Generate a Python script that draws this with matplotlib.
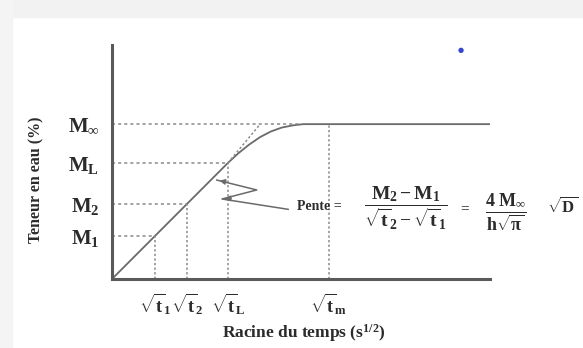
import matplotlib
matplotlib.use("Agg")
import matplotlib.pyplot as plt
from matplotlib.patches import Rectangle

# diagram values (arbitrary units)
t_vals = [1.0, 1.75, 2.7, 5.05]          # sqrt(t1), sqrt(t2), sqrt(tL), sqrt(tm)
t_labels = [r"$\sqrt{\mathbf{t}}_\mathbf{1}$", r"$\sqrt{\mathbf{t}}_\mathbf{2}$",
            r"$\sqrt{\mathbf{t}}_\mathbf{L}$", r"$\sqrt{\mathbf{t}}_\mathbf{m}$"]
m_vals = [1.0, 1.75, 2.7, 3.6]           # M1, M2, ML, Minf
m_labels = [r"$\mathbf{M_1}$", r"$\mathbf{M_2}$", r"$\mathbf{M_L}$", r"$\mathbf{M_\infty}$"]
curve_x = [0, 2.7, 2.95, 3.2, 3.45, 3.7, 3.95, 4.2, 4.45, 8.8]
curve_y = [0, 2.7, 2.93, 3.13, 3.3, 3.43, 3.52, 3.57, 3.6, 3.6]
tangent_x = [2.7, 3.45]
tangent_y = [2.7, 3.6]
minf_reach = 4.4     # where the curve meets M_inf

plt.rcParams["font.family"] = ["Liberation Serif", "DejaVu Serif"]
plt.rcParams["mathtext.fontset"] = "custom"
plt.rcParams["mathtext.rm"] = "Liberation Serif"
plt.rcParams["mathtext.it"] = "Liberation Serif:italic"
plt.rcParams["mathtext.bf"] = "Liberation Serif:bold"

ink = "#2b2b2b"
line_c = "#6a6a6a"
dot_c = "#8a8a8a"

fig = plt.figure(figsize=(5.83, 3.48), dpi=100)
fig.patch.set_facecolor("white")
# screenshot frame (light grey band top and left)
fig.patches.append(Rectangle((0, 1 - 17 / 348), 1, 17 / 348, transform=fig.transFigure,
                             color="#f2f2f2", zorder=0))
fig.patches.append(Rectangle((0, 0), 12 / 583, 1, transform=fig.transFigure,
                             color="#f4f4f4", zorder=0))

ax = fig.add_axes([112 / 583, 69 / 348, 378 / 583, 234 / 348])
ax.set_xlim(0, 8.8)
ax.set_ylim(0, 5.44)
ax.patch.set_alpha(0)
for s in ["top", "right"]:
    ax.spines[s].set_visible(False)
for s in ["left", "bottom"]:
    ax.spines[s].set_color("#5a5a5a")
    ax.spines[s].set_linewidth(2.2)

# main curve
ax.plot(curve_x, curve_y, color=line_c, lw=1.3, solid_capstyle="round")
ax.plot(tangent_x, tangent_y, color=dot_c, lw=1.1, ls=(0, (1.5, 1.5)))

# dotted guides
for t, m in zip(t_vals[:3], m_vals[:3]):
    ax.plot([0, t], [m, m], color=dot_c, lw=1.1, ls=(0, (2, 2)))
    ax.plot([t, t], [0, m], color=dot_c, lw=1.1, ls=(0, (1.5, 1.5)))
ax.plot([0, minf_reach], [m_vals[3], m_vals[3]], color=dot_c, lw=1.1, ls=(0, (2, 2)))
ax.plot([t_vals[3], t_vals[3]], [0, m_vals[3]], color=dot_c, lw=1.1, ls=(0, (1.5, 1.5)))

ax.set_yticks(m_vals)
ax.set_yticklabels(m_labels, fontsize=15, color=ink)
ax.set_xticks(t_vals)
ax.set_xticklabels(t_labels, fontsize=13, color=ink)
ax.tick_params(length=0)
ax.tick_params(axis="y", pad=9)
ax.tick_params(axis="x", pad=9)

# zigzag pointer
zz_x = [2.44, 3.37, 2.56, 4.1]
zz_y = [2.30, 2.07, 1.86, 1.62]
ax.plot(zz_x, zz_y, color=line_c, lw=1.1, clip_on=False)
for (x0, y0), (x1, y1) in [((2.44, 2.30), (2.72, 2.24)), ((2.56, 1.86), (2.84, 1.88))]:
    ax.annotate("", xy=(x0, y0), xytext=(x1, y1),
                arrowprops=dict(arrowstyle="-|>", color=line_c, lw=1.0,
                                mutation_scale=8))


def fx(px):
    return px / 583


def fy(py):
    return 1 - py / 348


fig.text(fx(36), fy(180), "Teneur en eau (%)", rotation=90, ha="center", va="center",
         fontsize=11.5, fontweight="bold", color=ink)
fig.text(fx(304), fy(333), r"Racine du temps (s$^{\mathbf{1/2}}$)", ha="center",
         va="center", fontsize=12.5, fontweight="bold", color=ink)

fig.text(fx(319), fy(206), "Pente =", ha="center", va="center", fontsize=10,
         fontweight="bold", color=ink)
fig.text(fx(406), fy(208),
         r"$\dfrac{\mathbf{M_2 - M_1}}{\sqrt{\mathbf{t}}_\mathbf{2} - \sqrt{\mathbf{t}}_\mathbf{1}}$",
         ha="center", va="center", fontsize=14, color=ink)
fig.text(fx(465), fy(209), "=", ha="center", va="center", fontsize=11,
         fontweight="bold", color=ink)
fig.text(fx(506), fy(212), r"$\dfrac{\mathbf{4\ M_\infty}}{\mathbf{h}\sqrt{\mathbf{\pi}}}$",
         ha="center", va="center", fontsize=13, color=ink)
fig.text(fx(563), fy(207), r"$\sqrt{\mathbf{D}}$", ha="center", va="center",
         fontsize=12, color=ink)

# stray blue dot of the screenshot
fig.text(fx(461), fy(50), "\u25cf", ha="center", va="center", fontsize=5,
         color="#3344dd", family="DejaVu Sans")

fig.savefig("out.png", dpi=100)
